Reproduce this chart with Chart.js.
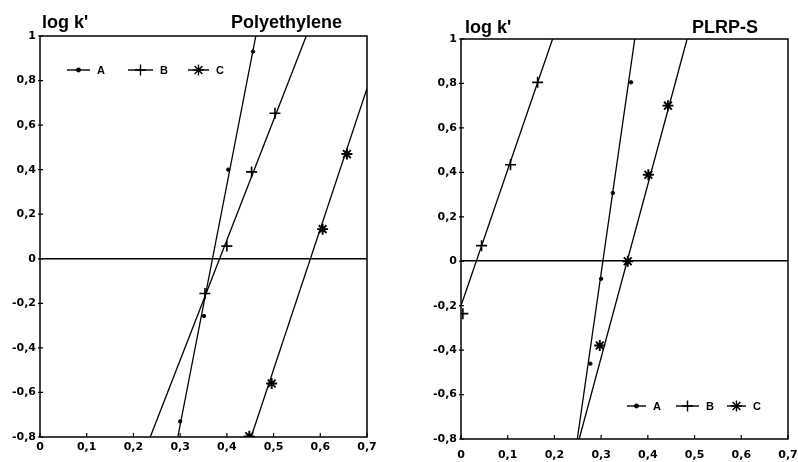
<!DOCTYPE html>
<html>
<head>
<meta charset="utf-8">
<script src="https://cdn.jsdelivr.net/npm/chart.js@4.4.0/dist/chart.umd.min.js"></script>
<style>
html, body { margin: 0; padding: 0; background: #fff; }
#wrap { position: relative; width: 798px; height: 462px; }
.box { position: absolute; top: 0; width: 399px; height: 462px; }
</style>
</head>
<body>
<div id="wrap">
    <div class="box" style="left:0"><canvas id="peChart"></canvas></div>
    <div class="box" style="left:399px"><canvas id="plrpChart"></canvas></div>
</div>
<script>
// tick values (both panels)
const xTicks = [0, 0.1, 0.2, 0.3, 0.4, 0.5, 0.6, 0.7];
const yTicks = [-0.8, -0.6, -0.4, -0.2, 0, 0.2, 0.4, 0.6, 0.8, 1];
const seriesNames = ['A', 'B', 'C'];

// Polyethylene - measured points
const peA_x = [0.300, 0.351, 0.403, 0.456];
const peA_y = [-0.73, -0.257, 0.40, 0.93];
const peB_x = [0.353, 0.400, 0.453, 0.503];
const peB_y = [-0.156, 0.057, 0.39, 0.653];
const peC_x = [0.448, 0.496, 0.605, 0.657];
const peC_y = [-0.797, -0.56, 0.133, 0.47];
// Polyethylene - fitted lines (ends)
const peA_fitX = [0.295, 0.462];
const peA_fitY = [-0.8, 1];
const peB_fitX = [0.236, 0.570];
const peB_fitY = [-0.8, 1];
const peC_fitX = [0.452, 0.700];
const peC_fitY = [-0.8, 0.765];

// PLRP-S - measured points
const prA_x = [0.277, 0.300, 0.325, 0.364];
const prA_y = [-0.461, -0.079, 0.307, 0.805];
const prB_x = [0.004, 0.044, 0.106, 0.164];
const prB_y = [-0.236, 0.07, 0.434, 0.805];
const prC_x = [0.297, 0.357, 0.401, 0.443];
const prC_y = [-0.379, 0.0, 0.389, 0.70];
// PLRP-S - fitted lines (ends)
const prA_fitX = [0.249, 0.372];
const prA_fitY = [-0.8, 1];
const prB_fitX = [0.000, 0.196];
const prB_fitY = [-0.2, 1];
const prC_fitX = [0.253, 0.484];
const prC_fitY = [-0.8, 1];

const markers = [
    { pointStyle: 'circle', radius: 1.7, borderWidth: 1 },
    { pointStyle: 'cross', radius: 5.5, borderWidth: 1.6 },
    { pointStyle: 'star', radius: 5.5, borderWidth: 1.9 }
];

function toXY(xs, ys) {
    return xs.map((x, i) => ({ x: x, y: ys[i] }));
}

function fmt(v) {
    return String(Math.round(v * 10) / 10).replace('.', ',');
}

// frame, inward ticks, titles, legend
const decorPlugin = {
    id: 'decor',
    afterDraw(chart, args, opts) {
        const ctx = chart.ctx;
        const a = chart.chartArea;
        const xs = chart.scales.x, ys = chart.scales.y;
        ctx.save();
        ctx.strokeStyle = '#000';
        ctx.lineWidth = 1.5;
        ctx.strokeRect(a.left, a.top, a.right - a.left, a.bottom - a.top);

        ctx.lineWidth = 1.2;
        ctx.beginPath();
        xTicks.forEach(v => {
            const px = xs.getPixelForValue(v);
            ctx.moveTo(px, a.bottom);
            ctx.lineTo(px, a.bottom - 4);
        });
        yTicks.forEach(v => {
            const py = ys.getPixelForValue(v);
            ctx.moveTo(a.left - 2, py);
            ctx.lineTo(a.left + 3, py);
        });
        ctx.stroke();

        // titles
        ctx.fillStyle = '#000';
        ctx.font = 'bold 18px "Liberation Sans", Arial, sans-serif';
        ctx.textBaseline = 'alphabetic';
        ctx.textAlign = 'left';
        ctx.fillText("log k'", opts.axisTitleX, opts.titleY);
        ctx.textAlign = 'right';
        ctx.fillText(opts.name, opts.nameRight, opts.titleY);

        // legend
        ctx.font = 'bold 11px "Liberation Sans", Arial, sans-serif';
        ctx.textAlign = 'left';
        ctx.textBaseline = 'middle';
        opts.legend.forEach((item, i) => {
            ctx.lineWidth = 1.4;
            ctx.beginPath();
            ctx.moveTo(item.x, opts.legendY);
            ctx.lineTo(item.x + item.len, opts.legendY);
            ctx.stroke();
            Chart.helpers.drawPoint(ctx, {
                pointStyle: markers[i].pointStyle,
                radius: markers[i].radius,
                borderWidth: markers[i].borderWidth,
                rotation: 0
            }, item.x + item.len / 2, opts.legendY);
            ctx.fillText(seriesNames[i], item.x + item.len + 7, opts.legendY + 1);
        });
        ctx.restore();
    }
};

function makeChart(id, pts, fits, layout) {
    const datasets = [];
    fits.forEach(f => {
        datasets.push({
            data: toXY(f[0], f[1]),
            showLine: true,
            borderColor: '#000',
            borderWidth: 1.3,
            pointRadius: 0,
            fill: false
        });
    });
    pts.forEach((p, i) => {
        datasets.push({
            data: toXY(p[0], p[1]),
            showLine: false,
            pointRadius: markers[i].radius,
            pointStyle: markers[i].pointStyle,
            pointBorderWidth: markers[i].borderWidth,
            pointBackgroundColor: '#000',
            pointBorderColor: '#000'
        });
    });

    const tickFont = { family: '"DejaVu Sans", sans-serif', size: 11, weight: 'bold' };

    return new Chart(document.getElementById(id), {
        type: 'scatter',
        data: { datasets: datasets },
        options: {
            responsive: true,
            maintainAspectRatio: false,
            animation: false,
            layout: { padding: layout.padding },
            plugins: {
                legend: { display: false },
                tooltip: { enabled: false },
                decor: layout.decor
            },
            scales: {
                x: {
                    type: 'linear',
                    min: 0,
                    max: 0.7,
                    afterBuildTicks: s => { s.ticks = xTicks.map(v => ({ value: v })); },
                    afterFit: s => {
                        s.height = layout.xHeight;
                        s.paddingLeft = 0;
                        s.paddingRight = 0;
                    },
                    grid: { display: false, drawTicks: false },
                    border: { display: false },
                    ticks: {
                        color: '#000',
                        font: tickFont,
                        padding: layout.xPad,
                        maxRotation: 0,
                        autoSkip: false,
                        callback: v => fmt(v)
                    }
                },
                y: {
                    type: 'linear',
                    min: -0.8,
                    max: 1,
                    afterBuildTicks: s => { s.ticks = yTicks.map(v => ({ value: v })); },
                    afterFit: s => {
                        s.width = layout.yWidth;
                        s.paddingTop = 0;
                        s.paddingBottom = 0;
                    },
                    grid: {
                        drawTicks: false,
                        lineWidth: 1.5,
                        color: c => (c.tick && Math.abs(c.tick.value) < 1e-9) ? '#000' : 'rgba(0,0,0,0)'
                    },
                    border: { display: false },
                    ticks: {
                        color: '#000',
                        font: tickFont,
                        padding: 4,
                        callback: v => fmt(v)
                    }
                }
            }
        },
        plugins: [decorPlugin]
    });
}

makeChart('peChart',
    [[peA_x, peA_y], [peB_x, peB_y], [peC_x, peC_y]],
    [[peA_fitX, peA_fitY], [peB_fitX, peB_fitY], [peC_fitX, peC_fitY]],
    {
        padding: { left: 0, top: 36, right: 32, bottom: 0 },
        yWidth: 40,
        xHeight: 25,
        xPad: 4,
        decor: {
            name: 'Polyethylene',
            axisTitleX: 42,
            nameRight: 342,
            titleY: 28,
            legendY: 70,
            legend: [{ x: 67, len: 23 }, { x: 128, len: 25 }, { x: 188, len: 21 }]
        }
    });

makeChart('plrpChart',
    [[prA_x, prA_y], [prB_x, prB_y], [prC_x, prC_y]],
    [[prA_fitX, prA_fitY], [prB_fitX, prB_fitY], [prC_fitX, prC_fitY]],
    {
        padding: { left: 0, top: 39, right: 10, bottom: 0 },
        yWidth: 62,
        xHeight: 23,
        xPad: 10,
        decor: {
            name: 'PLRP-S',
            axisTitleX: 66,
            nameRight: 359,
            titleY: 33,
            legendY: 406,
            legend: [{ x: 228, len: 19 }, { x: 277, len: 23 }, { x: 328, len: 19 }]
        }
    });
</script>
</body>
</html>
